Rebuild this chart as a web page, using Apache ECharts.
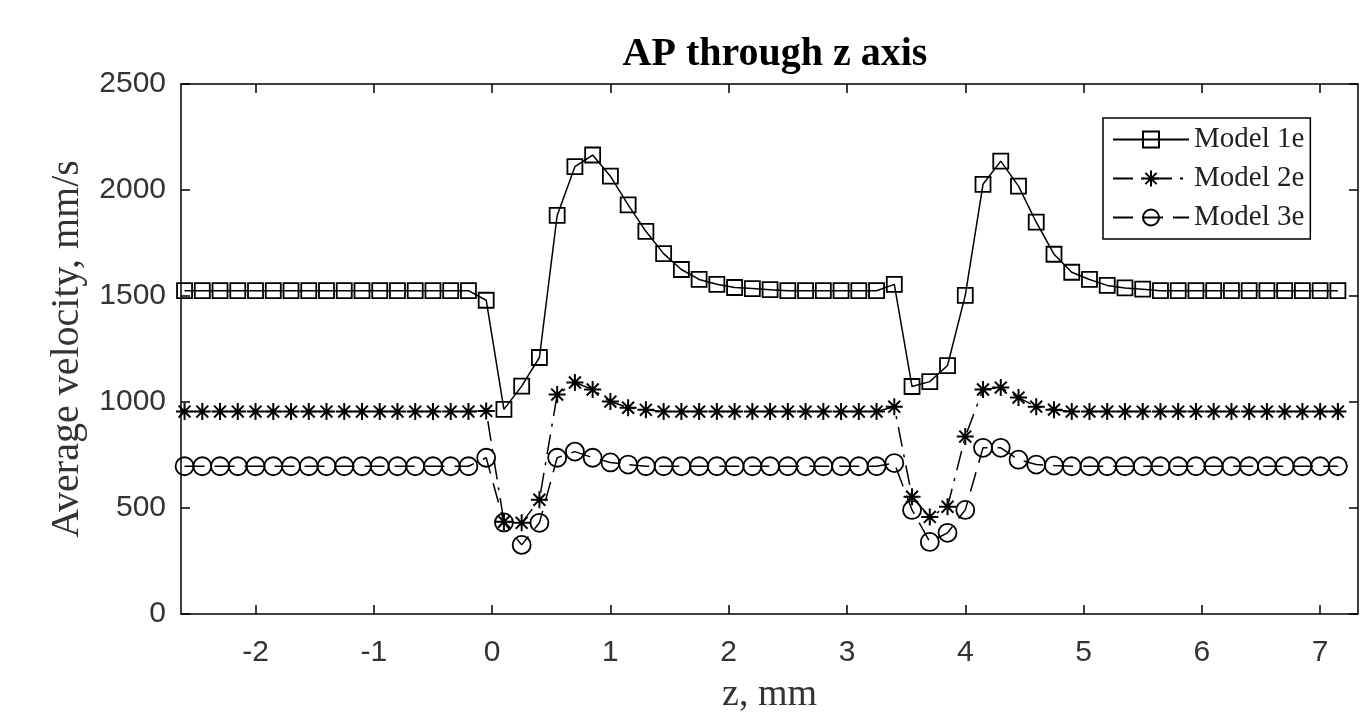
<!DOCTYPE html>
<html>
<head>
<meta charset="utf-8">
<title>AP through z axis</title>
<script src="https://cdn.jsdelivr.net/npm/echarts@6/dist/echarts.min.js"></script>
<style>
  html, body { margin: 0; padding: 0; background: #fff; }
  #chart { width: 1368px; height: 719px; }
</style>
</head>
<body>
<div id="chart"></div>
<script>
// positions along z, mm
const zValues = [
  -2.6, -2.45, -2.3, -2.15, -2, -1.85, -1.7, -1.55, -1.4, -1.25, -1.1, -0.95, -0.8, -0.65, -0.5, -0.35, -0.2,
  -0.05, 0.1, 0.25, 0.4, 0.55, 0.7, 0.85, 1, 1.15, 1.3, 1.45, 1.6, 1.75, 1.9, 2.05, 2.2, 2.35, 2.5, 2.65,
  2.8, 2.95, 3.1, 3.25, 3.4, 3.55, 3.7, 3.85, 4, 4.15, 4.3, 4.45, 4.6, 4.75, 4.9, 5.05, 5.2, 5.35, 5.5,
  5.65, 5.8, 5.95, 6.1, 6.25, 6.4, 6.55, 6.7, 6.85, 7, 7.15
]
const model1e = [
  1525, 1525, 1525, 1525, 1525, 1525, 1525, 1525, 1525, 1525, 1525, 1525, 1525, 1525, 1525, 1525, 1525,
  1480, 965, 1075, 1210, 1880, 2110, 2165, 2065, 1930, 1805, 1700, 1625, 1578, 1555, 1540, 1535, 1530, 1525, 1525,
  1525, 1525, 1525, 1525, 1555, 1073, 1096, 1172, 1503, 2027, 2136, 2018, 1848, 1697, 1612, 1578, 1550, 1538, 1532,
  1525, 1525, 1525, 1525, 1525, 1525, 1525, 1525, 1525, 1525, 1525
]
const model2e = [
  955, 955, 955, 955, 955, 955, 955, 955, 955, 955, 955, 955, 955, 955, 955, 955, 955,
  958, 435, 430, 539, 1035, 1092, 1059, 1002, 973, 963, 955, 955, 955, 955, 955, 955, 955, 955, 955,
  955, 955, 955, 955, 978, 553, 458, 506, 837, 1059, 1068, 1021, 978, 964, 955, 955, 955, 955, 955,
  955, 955, 955, 955, 955, 955, 955, 955, 955, 955, 955
]
const model3e = [
  697, 697, 697, 697, 697, 697, 697, 697, 697, 697, 697, 697, 697, 697, 697, 697, 697,
  737, 432, 326, 430, 737, 766, 737, 715, 705, 697, 697, 697, 697, 697, 697, 697, 697, 697, 697,
  697, 697, 697, 697, 712, 491, 340, 383, 491, 784, 784, 728, 705, 700, 697, 697, 697, 697, 697,
  697, 697, 697, 697, 697, 697, 697, 697, 697, 697, 697
]
const xTicks = [-2, -1, 0, 1, 2, 3, 4, 5, 6, 7]
const yTicks = [0, 500, 1000, 1500, 2000, 2500]

const starPath = 'path://M0,-10L0,10M-10,0L10,0M-7,-7L7,7M-7,7L7,-7'
const pair = (ys) => zValues.map((z, i) => [z, ys[i]])

const chart = echarts.init(document.getElementById('chart'))

const tickFont = { fontFamily: 'Liberation Sans', fontSize: 30, color: '#333' }
const axisLine = { show: true, onZero: false, lineStyle: { color: '#000', width: 1.5 } }
const tick = (vals) => ({ show: true, inside: true, length: 9, customValues: vals, lineStyle: { color: '#000', width: 1.5 } })

chart.setOption({
  animation: false,
  backgroundColor: '#fff',
  title: {
    text: 'AP through z axis',
    left: 770,
    top: 30,
    textAlign: 'center',
    textStyle: { fontFamily: 'Liberation Serif', fontWeight: 'bold', fontSize: 40, color: '#000' }
  },
  grid: { left: 181, top: 84, right: 10, bottom: 105, containLabel: false },
  legend: {
    orient: 'vertical',
    left: 1103,
    top: 118,
    padding: [7, 6, 7, 9],
    itemWidth: 76,
    itemHeight: 20,
    itemGap: 10,
    borderColor: '#000',
    borderWidth: 1.5,
    backgroundColor: '#fff',
    textStyle: { fontFamily: 'Liberation Serif', fontSize: 29, color: '#222', padding: [0, 14, 0, 0] },
    data: ['Model 1e', 'Model 2e', 'Model 3e']
  },
  xAxis: [
    {
      type: 'value',
      min: -2.63,
      max: 7.32,
      name: 'z, mm',
      nameLocation: 'middle',
      nameGap: 62,
      nameTextStyle: { fontFamily: 'Liberation Serif', fontSize: 38, color: '#333' },
      axisLine,
      axisTick: tick(xTicks),
      axisLabel: { ...tickFont, margin: 24, customValues: xTicks },
      splitLine: { show: false }
    },
    {
      type: 'value',
      position: 'top',
      min: -2.63,
      max: 7.32,
      axisLine,
      axisTick: tick(xTicks),
      axisLabel: { show: false },
      splitLine: { show: false }
    }
  ],
  yAxis: [
    {
      type: 'value',
      min: 0,
      max: 2500,
      name: 'Average velocity, mm/s',
      nameLocation: 'middle',
      nameGap: 94,
      nameTextStyle: { fontFamily: 'Liberation Serif', fontSize: 40, color: '#333' },
      axisLine,
      axisTick: tick(yTicks),
      axisLabel: { ...tickFont, margin: 15, customValues: yTicks, formatter: (v) => String(v) },
      splitLine: { show: false }
    },
    {
      type: 'value',
      position: 'right',
      min: 0,
      max: 2500,
      axisLine,
      axisTick: tick(yTicks),
      axisLabel: { show: false },
      splitLine: { show: false }
    }
  ],
  series: [
    {
      name: 'Model 1e',
      type: 'line',
      data: pair(model1e),
      symbol: 'rect',
      symbolSize: 15,
      lineStyle: { color: '#000', width: 1.5, type: 'solid' },
      itemStyle: { color: 'rgba(0,0,0,0)', borderColor: '#000', borderWidth: 1.8 },
      emphasis: { disabled: true }
    },
    {
      name: 'Model 2e',
      type: 'line',
      data: pair(model2e),
      symbol: starPath,
      symbolSize: 17,
      lineStyle: { color: '#000', width: 1.5, type: [20, 8, 3, 8] },
      itemStyle: { color: 'rgba(0,0,0,0)', borderColor: '#000', borderWidth: 2 },
      emphasis: { disabled: true }
    },
    {
      name: 'Model 3e',
      type: 'line',
      data: pair(model3e),
      symbol: 'circle',
      symbolSize: 18,
      lineStyle: { color: '#000', width: 1.5, type: [20, 10] },
      itemStyle: { color: 'rgba(0,0,0,0)', borderColor: '#000', borderWidth: 1.8 },
      emphasis: { disabled: true }
    }
  ]
})
</script>
</body>
</html>
